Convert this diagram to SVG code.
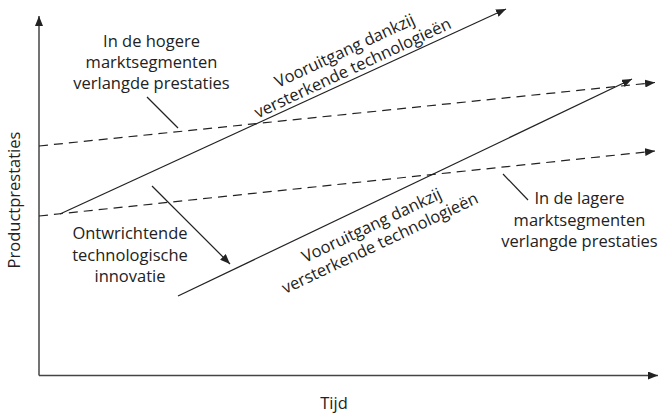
<svg xmlns="http://www.w3.org/2000/svg" width="659" height="415" viewBox="0 0 659 415">
<style>
.t{font-family:"Open Sans","Noto Sans",sans-serif;font-size:16.5px;fill:#222;text-anchor:middle}
.ln{stroke:#222;stroke-width:1.2;fill:none}
.ds{stroke:#222;stroke-width:1.2;fill:none;stroke-dasharray:9 6}
.ax{stroke:#444;stroke-width:1.5;fill:none}
</style>
<defs>
<marker id="ah" viewBox="0 0 10 8" refX="10" refY="4" markerWidth="10" markerHeight="8" markerUnits="userSpaceOnUse" orient="auto">
<path d="M0,0 L10,4 L0,8 Z" fill="#222"/>
</marker>
</defs>
<g id="axes">
<line class="ax" x1="39" y1="375.5" x2="39" y2="16" marker-end="url(#ah)"/>
<line class="ax" x1="39" y1="375.5" x2="658" y2="375.5" marker-end="url(#ah)"/>
</g>
<g id="connectors">
<line class="ds" x1="39" y1="146" x2="655" y2="82.5" marker-end="url(#ah)"/>
<line class="ds" x1="39" y1="216" x2="655" y2="151" marker-end="url(#ah)"/>
<line class="ln" x1="60" y1="214" x2="506" y2="9" marker-end="url(#ah)"/>
<line class="ln" x1="178" y1="296" x2="632" y2="79" marker-end="url(#ah)"/>
<line class="ln" x1="152" y1="186" x2="230" y2="264" marker-end="url(#ah)"/>
<line class="ln" x1="147" y1="97" x2="178" y2="128"/>
<line class="ln" x1="503" y1="174" x2="528" y2="200"/>
</g>
<g id="label-hoger">
<text class="t" x="151.5" y="47">In de hogere</text>
<text class="t" x="151.5" y="68">marktsegmenten</text>
<text class="t" x="151.5" y="89">verlangde prestaties</text>
</g>
<g id="label-lager">
<text class="t" x="579.5" y="204">In de lagere</text>
<text class="t" x="579.5" y="225.5">marktsegmenten</text>
<text class="t" x="579.5" y="247">verlangde prestaties</text>
</g>
<g id="label-ontwrichtend">
<text class="t" x="130" y="239">Ontwrichtende</text>
<text class="t" x="130" y="261">technologische</text>
<text class="t" x="130" y="282">innovatie</text>
</g>
<g id="label-upper-line" transform="translate(355,73) rotate(-25)">
<text class="t" x="0" y="-19">Vooruitgang dankzij</text>
<text class="t" x="0" y="0">versterkende technologieën</text>
</g>
<g id="label-lower-line" transform="translate(374,230.5) rotate(-25.3)">
<text class="t" x="0" y="0">Vooruitgang dankzij</text>
<text class="t" x="0" y="19.5">versterkende technologieën</text>
</g>
<g id="axis-labels">
<text class="t" transform="translate(20,200) rotate(-90)">Productprestaties</text>
<text class="t" x="334" y="409">Tijd</text>
</g>
</svg>
